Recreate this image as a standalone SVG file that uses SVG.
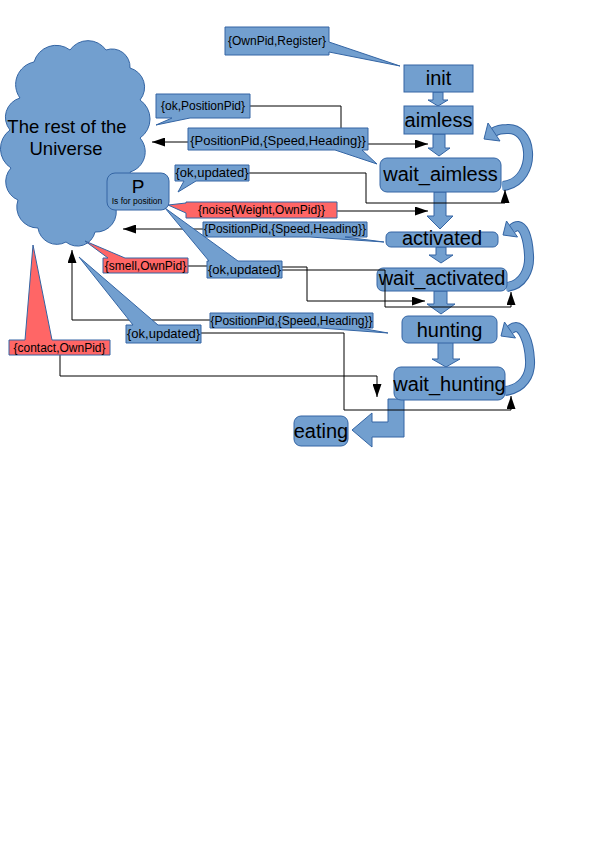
<svg xmlns="http://www.w3.org/2000/svg" width="595" height="841" viewBox="0 0 595 841">
<defs>
<marker id="ah" markerUnits="userSpaceOnUse" markerWidth="13" markerHeight="9" refX="13" refY="4.5" orient="auto" viewBox="0 0 13 9"><path d="M0,0 L13,4.5 L0,9 Z" fill="#000"/></marker>
</defs>
<style>
.shape{fill:#729fcf;stroke:#3465a4;stroke-width:1}
.red{fill:#ff6666;stroke:#3465a4;stroke-width:1}
.t{font-family:"Liberation Sans",Arial,sans-serif;fill:#000;text-anchor:middle}
.st{font-size:20px}
.ln{fill:none;stroke:#000;stroke-width:1}
.arr{marker-end:url(#ah)}
.band{fill:none;stroke:#3465a4;stroke-width:10}
.bandf{fill:none;stroke:#729fcf;stroke-width:8}
</style>
<rect width="595" height="841" fill="#fff"/>

<g id="universe">
<path class="shape" d="M20,98 A23,23 0 0 1 34,62 A23,23 0 0 1 70,50 A22,22 0 0 1 106,50 A18,18 0 0 1 130,68 A20,20 0 0 1 140,100 A23,23 0 0 1 140,138 A21,21 0 0 1 130,172 A22,22 0 0 1 115,205 A20,20 0 0 1 95,232 A18,18 0 0 1 66,242 A19,19 0 0 1 38,228 A21,21 0 0 1 18,200 A20,20 0 0 1 11,168 A23,23 0 0 1 10,130 A20,20 0 0 1 20,98 Z"/>
<text class="t" x="67" y="133" style="font-size:18.5px">The rest of the</text>
<text class="t" x="66" y="155" style="font-size:18.5px">Universe</text>
</g>

<g id="P">
<rect class="shape" x="107" y="173" width="62" height="37" rx="8"/>
<text class="t" x="138" y="193" style="font-size:19px">P</text>
<text class="t" x="137" y="204" style="font-size:8.5px">Is for position</text>
</g>

<g id="state-arrows">
<polygon class="shape" points="433,92 443,92 443,100 448,100 438,106 428,100 433,100"/>
<polygon class="shape" points="433,134 445,134 445,148 450,148 439,156 428,148 433,148"/>
<polygon class="shape" points="434,192 446,192 446,216 453,216 440,229 427,216 434,216"/>
<polygon class="shape" points="436,247 446,247 446,255 453,255 441,263 429,255 436,255"/>
<polygon class="shape" points="434,291 447,291 447,304 455,304 441,314 427,304 434,304"/>
<polygon class="shape" points="438,342 453,342 453,359 460,359 446,367 432,359 438,359"/>
<polygon class="shape" points="388,399 404,399 404,437 372,437 372,447 352,430 372,413 372,422 388,422"/>
</g>

<g id="loop1">
<path class="band" d="M503,186 C522,184 529,166 528,152 C527,137 518,128 507,129 C501,129 497,130 494,132"/>
<path class="bandf" d="M502,186 C522,184 529,166 528,152 C527,137 518,128 507,129 C501,129 497,130 494,132"/>
<polygon class="shape" points="500,141 488,123 484,139"/>
</g>
<g id="loop2">
<path class="band" d="M507,287 C523,285 530,270 529,255 C528,238 524,227 518,226 C516,226 514,227 512,229"/>
<path class="bandf" d="M506,287 C523,285 530,270 529,255 C528,238 524,227 518,226 C516,226 514,227 512,229"/>
<polygon class="shape" points="517.5,237 506.5,221 503,235"/>
</g>
<g id="loop3">
<path class="band" d="M505,391 C523,389 531,375 530,360 C529,340 522,327 516,327 C514,327 512,328 510,330"/>
<path class="bandf" d="M504,391 C523,389 531,375 530,360 C529,340 522,327 516,327 C514,327 512,328 510,330"/>
<polygon class="shape" points="515.5,338 504.5,322 501,336"/>
</g>

<g id="init"><rect class="shape" x="404" y="65" width="69" height="27"/><text class="t st" x="438.5" y="85">init</text></g>
<g id="aimless"><rect class="shape" x="404" y="106" width="69" height="28"/><text class="t st" x="438.5" y="127">aimless</text></g>
<g id="wait_aimless"><rect class="shape" x="380" y="158" width="121" height="34" rx="7"/><text class="t st" x="440.5" y="181">wait_aimless</text></g>
<g id="activated"><rect class="shape" x="386" y="232" width="112" height="15" rx="5"/><text class="t st" x="442" y="245">activated</text></g>
<g id="wait_activated"><rect class="shape" x="377" y="268" width="130" height="23" rx="6"/><text class="t st" x="442" y="285">wait_activated</text></g>
<g id="hunting"><rect class="shape" x="402" y="316" width="95" height="27" rx="6"/><text class="t st" x="449.5" y="337">hunting</text></g>
<g id="wait_hunting"><rect class="shape" x="394" y="367" width="111" height="33" rx="7"/><text class="t st" x="449.5" y="391">wait_hunting</text></g>
<g id="eating"><rect class="shape" x="294" y="416" width="54" height="30" rx="7"/><text class="t st" x="321" y="438">eating</text></g>

<g id="connectors">
<path class="ln" d="M250,106 H341 V128"/>
<path class="ln arr" d="M188,142 H152"/>
<path class="ln arr" d="M368,144 H428"/>
<path class="ln arr" d="M249,173 H366 V203 H505 V190"/>
<path class="ln arr" d="M337,211 H428"/>
<path class="ln arr" d="M203,229 H123"/>
<path class="ln" d="M188,266 H207"/>
<path class="ln arr" d="M282,267 H307 V301 H425"/>
<path class="ln arr" d="M282,270 H385 V307 H511 V292"/>
<path class="ln arr" d="M210,320 H72 V250"/>
<path class="ln arr" d="M201,333 H344 V410 H511 V396"/>
<path class="ln arr" d="M60,355 V376 H377 V397"/>
</g>

<g id="msg-register"><path class="shape" d="M225,27 H329 V42 L400,66 L329,52 V55 H225 Z"/><text class="t" x="277" y="45" style="font-size:12px">{OwnPid,Register}</text></g>
<g id="msg-ok-positionpid"><path class="shape" d="M156,94 H250 V118 H190 L156,125 L172,118 H156 Z"/><text class="t" x="203" y="110" style="font-size:12px">{ok,PositionPid}</text></g>
<g id="msg-pos1"><path class="shape" d="M188,128 H368 V150 H362 L377,164 L335,150 H188 Z"/><text class="t" x="278" y="145" style="font-size:13px">{PositionPid,{Speed,Heading}}</text></g>
<g id="msg-ok-updated1"><path class="shape" d="M175,165 H249 V181 H196 L178,192 L184,181 H175 Z"/><text class="t" x="212" y="177" style="font-size:13px">{ok,updated}</text></g>
<g id="msg-noise"><path class="red" d="M186,202 H337 V218 H186 V213 L168,205 L186,203 Z"/><text class="t" x="261.5" y="214" style="font-size:12px">{noise{Weight,OwnPid}}</text></g>
<g id="msg-pos2"><path class="shape" d="M203,222 H367 V237 H345 L384,242 L310,237 H203 Z"/><text class="t" x="285" y="233" style="font-size:12px">{PositionPid,{Speed,Heading}}</text></g>
<g id="msg-smell"><path class="red" d="M103,258 H108 L85,241 L125,258 H188 V273 H103 Z"/><text class="t" x="145.5" y="270" style="font-size:12px">{smell,OwnPid}</text></g>
<g id="msg-ok-updated2"><path class="shape" d="M207,261 H209 L165,208 L238,261 H282 V278 H207 Z"/><text class="t" x="244.5" y="274" style="font-size:13px">{ok,updated}</text></g>
<g id="msg-pos3"><path class="shape" d="M210,313 H373 V328 H360 L388,333 L320,328 H210 Z"/><text class="t" x="291.5" y="325" style="font-size:12px">{PositionPid,{Speed,Heading}}</text></g>
<g id="msg-ok-updated3"><path class="shape" d="M126,325 H133 L79,257 L158,325 H201 V343 H126 Z"/><text class="t" x="163.5" y="338" style="font-size:13px">{ok,updated}</text></g>
<g id="msg-contact"><path class="red" d="M9,340 H25 L33,245 L52,340 H110 V355 H9 Z"/><text class="t" x="59.5" y="352" style="font-size:12px">{contact,OwnPid}</text></g>
</svg>
